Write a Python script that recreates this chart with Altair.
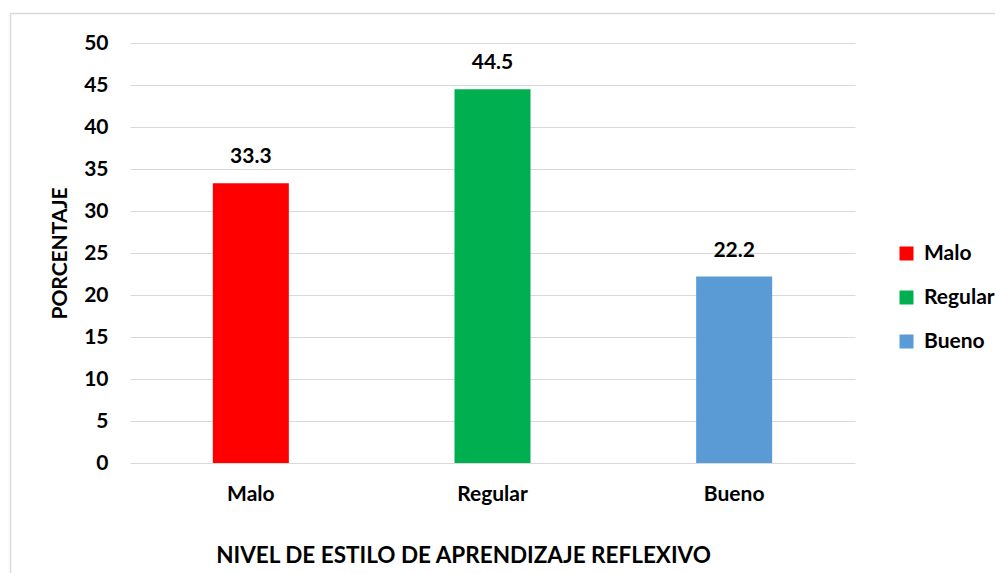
import altair as alt
import pandas as pd

categories = ["Malo", "Regular", "Bueno"]
values = [33.3, 44.5, 22.2]
colors = ["#ff0000", "#00b050", "#5b9bd5"]
y_ticks = [0, 5, 10, 15, 20, 25, 30, 35, 40, 45, 50]

df = pd.DataFrame({"nivel": categories, "pct": values})
FONT = "Lato"

x = alt.X("nivel:N", sort=categories,
          scale=alt.Scale(paddingInner=0.6855, paddingOuter=0.3428),
          axis=alt.Axis(title="NIVEL DE ESTILO DE APRENDIZAJE REFLEXIVO",
                        labelAngle=0, labelFont=FONT, labelFontSize=21,
                        labelFontWeight="bold", labelColor="#000000",
                        labelPadding=31, labelBaseline="middle",
                        ticks=False, domain=False, grid=False,
                        titleFont=FONT, titleFontSize=22.5, titleFontWeight="bold",
                        titleColor="#000000", titleX=333, titleY=92,
                        titleBaseline="middle", titleAlign="center"))
y = alt.Y("pct:Q", scale=alt.Scale(domain=[0, 50], nice=False),
          axis=alt.Axis(title="PORCENTAJE", values=y_ticks,
                        labelFont=FONT, labelFontSize=21, labelFontWeight="bold",
                        labelColor="#000000", labelPadding=22,
                        ticks=False, domain=False, grid=True,
                        gridColor="#d9d9d9", gridWidth=1.2,
                        titleFont=FONT, titleFontSize=21, titleFontWeight="bold",
                        titleColor="#000000", titleAngle=270, titleX=-70,
                        titleY=210, titleBaseline="middle", titleAlign="center"))

color = alt.Color("nivel:N", sort=categories,
                  scale=alt.Scale(domain=categories, range=colors),
                  legend=alt.Legend(title=None, orient="none", legendX=766,
                                    legendY=200, symbolType="square",
                                    symbolSize=196, symbolStrokeWidth=0,
                                    labelFont=FONT, labelFontSize=21,
                                    labelFontWeight="bold", labelColor="#000000",
                                    labelOffset=7, rowPadding=22, padding=0))

bars = alt.Chart(df).mark_bar().encode(x=x, y=y, color=color)
labels = alt.Chart(df).mark_text(dy=-26, baseline="middle", font=FONT,
                                 fontSize=21, fontWeight="bold",
                                 color="#000000").encode(
    x=alt.X("nivel:N", sort=categories), y="pct:Q",
    text=alt.Text("pct:Q", format=".1f"))

border = alt.Chart(alt.Data(values=[{"a": 1}])).mark_rect(
    fillOpacity=0, stroke="#d9d9d9", strokeWidth=1.5).encode(
    x=alt.value(-119.5), x2=alt.value(1000), y=alt.value(-29.5), y2=alt.value(700))

chart = alt.layer(border, bars, labels).properties(
    width=725, height=420,
    autosize=alt.AutoSizeParams(type="none"),
    padding={"left": 122, "top": 35, "right": 140, "bottom": 110},
).configure_view(stroke=None)

chart.save("out.html", embed_options={"renderer": "svg", "actions": False})
